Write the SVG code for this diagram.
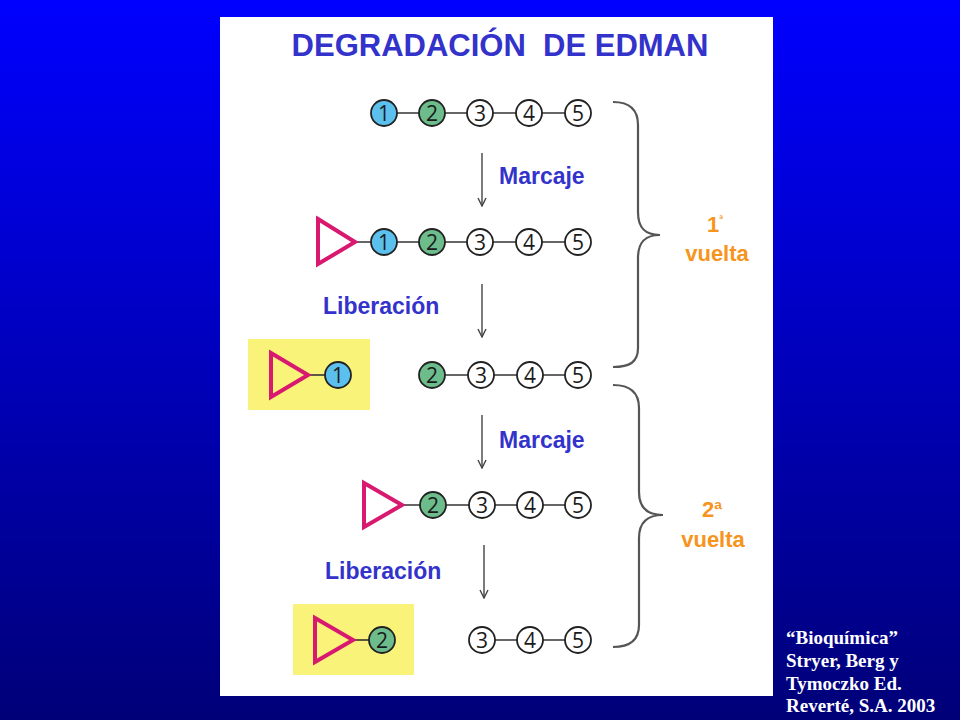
<svg xmlns="http://www.w3.org/2000/svg" width="960" height="720" viewBox="0 0 960 720">
<defs>
<linearGradient id="bg" x1="0" y1="0" x2="0" y2="1">
<stop offset="0" stop-color="#0000ff"/>
<stop offset="1" stop-color="#000078"/>
</linearGradient>
<marker id="ah" viewBox="0 0 10 10" refX="9" refY="5" markerWidth="10" markerHeight="10" markerUnits="userSpaceOnUse" orient="auto">
<path d="M1,1 L9,5 L1,9" fill="none" stroke="#444" stroke-width="1.4"/>
</marker>
<style>
.res circle{stroke:#222;stroke-width:1.8}
.res text{font-family:"Open Sans","DejaVu Sans",sans-serif;font-size:21px;fill:#1a1a1a;text-anchor:middle;dominant-baseline:central}
.blue{fill:#5cc0ee}
.green{fill:#6cbc8c}
.white{fill:#ffffff}
.tri{fill:none;stroke:#d8196f;stroke-width:4;stroke-linejoin:miter}
.bond{stroke:#333;stroke-width:1.6}
.arrow{stroke:#444;stroke-width:1.4;fill:none}
.brace{stroke:#555;stroke-width:2.2;fill:none}
.lbl{font-family:"Liberation Sans",Arial,sans-serif;font-weight:bold;font-size:23px;fill:#3333cc}
.or{font-family:"Liberation Sans",Arial,sans-serif;font-weight:bold;fill:#f7941d;text-anchor:middle}
.cite{font-family:"Liberation Serif","Times New Roman",serif;font-weight:bold;font-size:19px;fill:#ffffff}
.tag{fill:#faf37a}
</style>
</defs>
<rect width="960" height="720" fill="url(#bg)"/>
<rect x="220" y="17" width="553" height="679" fill="#ffffff"/>

<g id="title"><text x="500" y="56" text-anchor="middle" xml:space="preserve" style="font-family:'Liberation Sans',Arial,sans-serif;font-weight:bold;font-size:31px;fill:#3333cc">DEGRADACIÓN  DE EDMAN</text></g>

<g id="tags">
<rect id="tag1" class="tag" x="248" y="339" width="122" height="71"/>
<rect id="tag2" class="tag" x="293" y="604" width="121" height="71"/>
</g>

<g id="connectors">
<line class="bond" x1="384" y1="113" x2="578" y2="113"/>
<line class="bond" x1="355" y1="242" x2="578" y2="242"/>
<line class="bond" x1="308" y1="375" x2="338" y2="375"/>
<line class="bond" x1="432" y1="375" x2="578" y2="375"/>
<line class="bond" x1="402" y1="505" x2="578" y2="505"/>
<line class="bond" x1="353" y1="640" x2="382" y2="640"/>
<line class="bond" x1="482" y1="640" x2="578" y2="640"/>
<line class="arrow" x1="482" y1="153" x2="482" y2="206" marker-end="url(#ah)"/>
<line class="arrow" x1="482" y1="284" x2="482" y2="337" marker-end="url(#ah)"/>
<line class="arrow" x1="482" y1="415" x2="482" y2="468" marker-end="url(#ah)"/>
<line class="arrow" x1="484" y1="545" x2="484" y2="598" marker-end="url(#ah)"/>
</g>

<g id="row1">
<g id="r1-1" class="res"><circle class="blue" cx="384" cy="113" r="13"/><text x="384" y="113">1</text></g>
<g id="r1-2" class="res"><circle class="green" cx="432" cy="113" r="13"/><text x="432" y="113">2</text></g>
<g id="r1-3" class="res"><circle class="white" cx="480" cy="113" r="13"/><text x="480" y="113">3</text></g>
<g id="r1-4" class="res"><circle class="white" cx="529" cy="113" r="13"/><text x="529" y="113">4</text></g>
<g id="r1-5" class="res"><circle class="white" cx="578" cy="113" r="13"/><text x="578" y="113">5</text></g>
</g>

<g id="row2">
<polygon id="pitc2" class="tri" points="318,219 355,242 318,264"/>
<g id="r2-1" class="res"><circle class="blue" cx="384" cy="242" r="13"/><text x="384" y="242">1</text></g>
<g id="r2-2" class="res"><circle class="green" cx="432" cy="242" r="13"/><text x="432" y="242">2</text></g>
<g id="r2-3" class="res"><circle class="white" cx="480" cy="242" r="13"/><text x="480" y="242">3</text></g>
<g id="r2-4" class="res"><circle class="white" cx="529" cy="242" r="13"/><text x="529" y="242">4</text></g>
<g id="r2-5" class="res"><circle class="white" cx="578" cy="242" r="13"/><text x="578" y="242">5</text></g>
</g>

<g id="row3">
<g id="released1">
<polygon class="tri" points="271,353 308,375 271,397"/>
<g class="res"><circle class="blue" cx="338" cy="375" r="13"/><text x="338" y="375">1</text></g>
</g>
<g id="r3-2" class="res"><circle class="green" cx="432" cy="375" r="13"/><text x="432" y="375">2</text></g>
<g id="r3-3" class="res"><circle class="white" cx="481" cy="375" r="13"/><text x="481" y="375">3</text></g>
<g id="r3-4" class="res"><circle class="white" cx="530" cy="375" r="13"/><text x="530" y="375">4</text></g>
<g id="r3-5" class="res"><circle class="white" cx="578" cy="375" r="13"/><text x="578" y="375">5</text></g>
</g>

<g id="row4">
<polygon id="pitc4" class="tri" points="364,483 402,505 364,527"/>
<g id="r4-2" class="res"><circle class="green" cx="433" cy="505" r="13"/><text x="433" y="505">2</text></g>
<g id="r4-3" class="res"><circle class="white" cx="482" cy="505" r="13"/><text x="482" y="505">3</text></g>
<g id="r4-4" class="res"><circle class="white" cx="530" cy="505" r="13"/><text x="530" y="505">4</text></g>
<g id="r4-5" class="res"><circle class="white" cx="578" cy="505" r="13"/><text x="578" y="505">5</text></g>
</g>

<g id="row5">
<g id="released2">
<polygon class="tri" points="315,618 353,640 315,662"/>
<g class="res"><circle class="green" cx="382" cy="640" r="13"/><text x="382" y="640">2</text></g>
</g>
<g id="r5-3" class="res"><circle class="white" cx="482" cy="640" r="13"/><text x="482" y="640">3</text></g>
<g id="r5-4" class="res"><circle class="white" cx="530" cy="640" r="13"/><text x="530" y="640">4</text></g>
<g id="r5-5" class="res"><circle class="white" cx="578" cy="640" r="13"/><text x="578" y="640">5</text></g>
</g>

<g id="labels">
<text class="lbl" x="499" y="184">Marcaje</text>
<text class="lbl" x="323" y="314">Liberación</text>
<text class="lbl" x="499" y="448">Marcaje</text>
<text class="lbl" x="325" y="579">Liberación</text>
</g>

<g id="brace1">
<path class="brace" d="M613,102 C630,102 638,110 638,125 L638,212 C638,228 645,235 660,235 C645,235 638,242 638,258 L638,348 C638,362 630,367 613,367"/>
<text class="or" x="715" y="232" style="font-size:22px">1<tspan dy="-10" style="font-size:10px">ª</tspan></text>
<text class="or" x="717" y="261" style="font-size:22px">vuelta</text>
</g>

<g id="brace2">
<path class="brace" d="M613,385 C630,385 639,393 639,408 L639,492 C639,508 648,515 663,515 C648,515 639,522 639,538 L639,625 C639,640 630,647 613,647"/>
<text class="or" x="712" y="517" style="font-size:22px">2<tspan style="font-size:21px">ª</tspan></text>
<text class="or" x="713" y="547" style="font-size:22px">vuelta</text>
</g>

<g id="citation">
<text class="cite" x="786" y="644">“Bioquímica”</text>
<text class="cite" x="786" y="667">Stryer, Berg y</text>
<text class="cite" x="786" y="690">Tymoczko Ed.</text>
<text class="cite" x="786" y="712">Reverté, S.A. 2003</text>
</g>
</svg>
